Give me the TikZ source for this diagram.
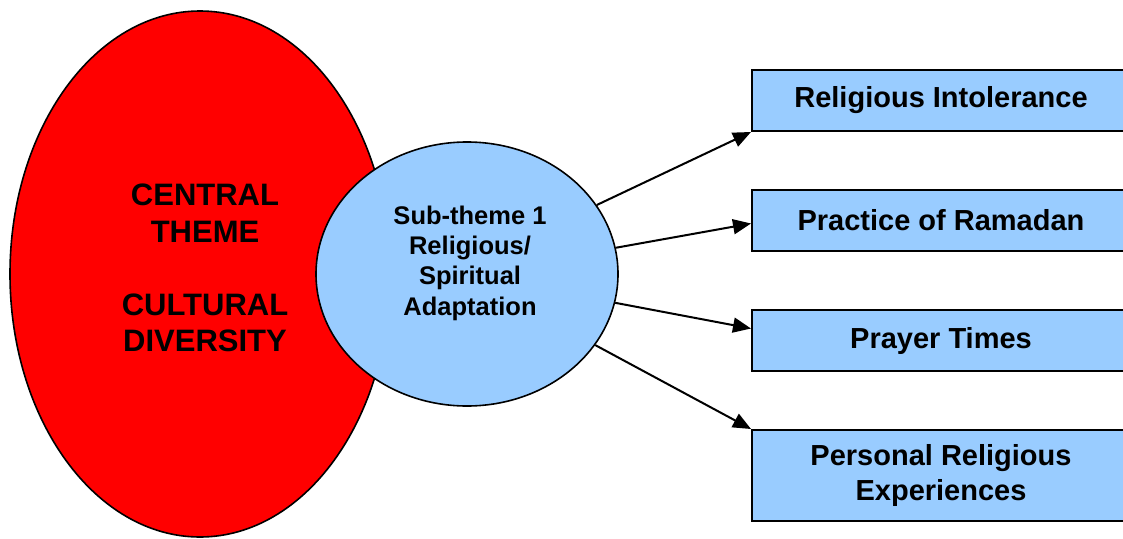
\documentclass[tikz,border=0pt]{standalone}
\usepackage{fontspec}
\setmainfont{Liberation Sans}
\usetikzlibrary{shapes.geometric,arrows.meta}

\definecolor{themered}{HTML}{FF0000}
\definecolor{subblue}{HTML}{99CCFF}

\tikzset{
  theme/.style={ellipse, draw=black, line width=1.6pt, fill=themered, inner sep=0pt,
    minimum width=380pt, minimum height=526pt},
  subtheme/.style={ellipse, draw=black, line width=1.6pt, fill=subblue, inner sep=0pt,
    minimum width=302pt, minimum height=264pt},
  topicbox/.style={rectangle, draw=black, line width=2pt, fill=subblue, inner sep=0pt,
    minimum width=378pt, minimum height=61pt, align=center,
    font=\bfseries\fontsize{29}{35.7}\selectfont},
  bigtext/.style={align=center, inner sep=0pt, font=\bfseries\fontsize{31}{36.5}\selectfont},
  subtext/.style={align=center, inner sep=0pt, font=\bfseries\fontsize{25.5}{30.3}\selectfont},
  link/.style={draw=black, line width=2pt, -{Triangle[length=18pt,width=15pt]}}
}

\begin{document}
\begin{tikzpicture}[x=1pt,y=-1pt]
  \useasboundingbox (0,0) rectangle (1123,538);

  % central theme and its sub-theme
  \node[theme] (central) at (200,274) {};
  \node[bigtext] (centraltxt) at (205,268) {CENTRAL\\THEME\\[36.5pt]CULTURAL\\DIVERSITY};
  \node[subtheme] (sub) at (467,274) {};
  \node[subtext] (subtxt) at (470,263) {Sub-theme 1\\Religious/\\Spiritual\\Adaptation};

  % topics on the right
  \node[topicbox] (intol) at (941,100.5) {Religious Intolerance};
  \node[topicbox] (ramadan) at (941,220.5) {Practice of Ramadan};
  \node[topicbox] (prayer) at (941,340.5) {Prayer Times};
  \node[topicbox, minimum height=91pt] (personal) at (941,475.5) {Personal Religious\\Experiences};

  % connectors
  \draw[link] (sub.28.8) -- (intol.south west);
  \draw[link] (sub.10.7) -- ([yshift=-3pt]ramadan.west);
  \draw[link] (sub.-11.9) -- ([yshift=12pt]prayer.west);
  \draw[link] (sub.-29.5) -- (personal.north west);
\end{tikzpicture}
\end{document}
